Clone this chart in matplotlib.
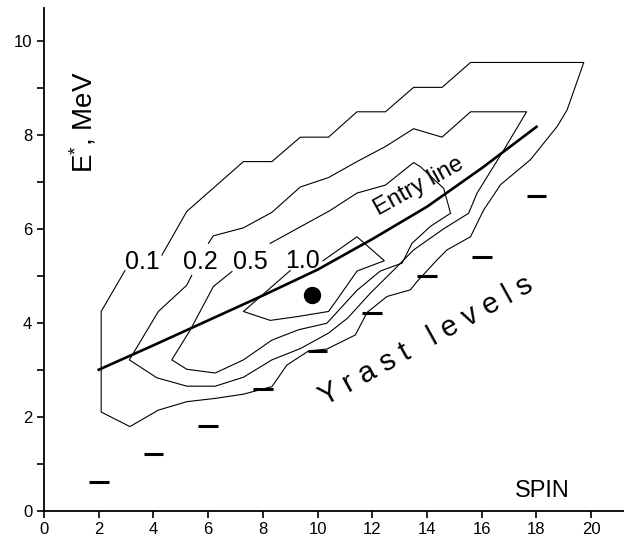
import numpy as np
import matplotlib
matplotlib.use('Agg')
import matplotlib.pyplot as plt

plt.rcParams['font.family'] = ['Liberation Sans', 'DejaVu Sans']
plt.rcParams['mathtext.fontset'] = 'custom'
plt.rcParams['mathtext.rm'] = 'Liberation Sans'

# yrast levels
yrast_spin = [2, 4, 6, 8, 10, 12, 14, 16, 18]
yrast_e = [0.6, 1.2, 1.8, 2.6, 3.4, 4.2, 5.0, 5.4, 6.7]

# entry line
entry_spin = [2, 4, 6, 8, 10, 12, 14, 16, 18]
entry_e = [3.0, 3.52, 4.05, 4.58, 5.13, 5.78, 6.47, 7.29, 8.17]

# measured point
point_spin = [9.8]
point_e = [4.6]

# contour levels (each one is a polyline, broken where its label sits)
c01_spin = [4.31, 5.22, 7.29, 8.33, 9.37, 10.4, 11.44, 12.48, 13.51, 14.55, 15.59,
            19.73, 19.12, 18.76, 17.78, 16.69, 16.07, 15.59, 14.73, 14.37, 13.64,
            13.39, 12.54, 11.81, 11.38, 10.34, 9.67, 8.88, 8.33, 7.29, 6.26, 5.22,
            4.18, 3.14, 2.09, 2.09, 2.96]
c01_e = [5.44, 6.37, 7.43, 7.43, 7.95, 7.95, 8.49, 8.49, 9.01, 9.01, 9.54,
         9.54, 8.53, 8.18, 7.47, 6.94, 6.40, 5.83, 5.55, 5.34, 4.88,
         4.70, 4.56, 4.22, 3.74, 3.44, 3.40, 3.10, 2.64, 2.48, 2.39, 2.32,
         2.14, 1.79, 2.10, 4.24, 5.11]

c02_spin = [6.01, 6.19, 7.29, 8.33, 9.37, 10.4, 11.44, 12.48, 13.51, 14.55, 15.59,
            17.64, 16.81, 15.83, 15.52, 14.61, 13.51, 12.78, 11.93, 11.1, 10.4,
            9.37, 8.33, 7.29, 6.26, 5.22, 4.12, 3.12, 4.18, 5.22, 5.40]
c02_e = [5.69, 5.85, 6.02, 6.35, 6.89, 7.09, 7.43, 7.75, 8.13, 7.95, 8.49,
         8.49, 7.68, 6.76, 6.33, 6.00, 5.55, 5.12, 4.63, 4.10, 3.78,
         3.45, 3.21, 2.84, 2.65, 2.65, 2.83, 3.21, 4.24, 4.80, 5.01]

c05_spin = [8.27, 10.46, 11.44, 12.48, 13.51, 13.76, 14.61, 14.86, 14.12, 13.45,
            13.09, 12.29, 11.44, 10.34, 9.30, 8.33, 7.29, 6.26, 5.22, 4.67,
            5.34, 6.19, 6.87]
c05_e = [5.69, 6.39, 6.76, 6.93, 7.41, 7.32, 6.86, 6.33, 6.05, 5.69,
         5.27, 5.10, 4.69, 3.99, 3.85, 3.63, 3.21, 2.93, 3.01, 3.21,
         3.84, 4.77, 5.09]

c10_spin = [10.2, 11.44, 12.44, 11.44, 10.71, 10.40, 9.25, 8.27, 7.29, 9.0]
c10_e = [5.32, 5.83, 5.32, 5.10, 4.49, 4.24, 4.13, 4.05, 4.24, 5.11]

level_text = ['0.1', '0.2', '0.5', '1.0']
level_spin = [3.6, 5.71, 7.55, 9.45]
level_e = [5.3, 5.3, 5.3, 5.32]

fig = plt.figure(figsize=(6.24, 5.49), dpi=100)
ax = fig.add_axes([0.0705, 0.0698, 0.9295, 0.9157])

for xs, ys in [(c01_spin, c01_e), (c02_spin, c02_e), (c05_spin, c05_e), (c10_spin, c10_e)]:
    ax.plot(xs, ys, color='black', lw=0.8)

for t, x, y in zip(level_text, level_spin, level_e):
    ax.text(x, y, t, fontsize=18, ha='center', va='center')

ax.plot(entry_spin, entry_e, color='black', lw=1.9)
ax.hlines(yrast_e, np.array(yrast_spin) - 0.36, np.array(yrast_spin) + 0.36,
          color='black', lw=2.2)
ax.plot(point_spin, point_e, 'o', color='black', ms=11.5)

ax.text(13.72, 6.9, 'Entry line', fontsize=17, rotation=29, ha='center', va='center')
ax.text(13.95, 3.62, 'Y r a s t   l e v e l s', fontsize=21, rotation=29,
        ha='center', va='center')
ax.text(1.43, 8.27, '$\\mathregular{E^{*}}$, MeV', fontsize=20, rotation=90,
        ha='center', va='center')
ax.text(18.2, 0.42, 'SPIN', fontsize=17, ha='center', va='center')

ax.set_xlim(0, 21.2)
ax.set_ylim(0, 10.7)
ax.set_xticks(range(0, 21, 2))
ax.set_yticks(range(0, 11, 2))
ax.set_yticks(range(1, 11, 2), minor=True)
ax.tick_params(axis='both', which='both', direction='out', length=5, width=1.2,
               labelsize=12, colors='black')
ax.spines['top'].set_visible(False)
ax.spines['right'].set_visible(False)
ax.spines['left'].set_linewidth(1.3)
ax.spines['bottom'].set_linewidth(1.3)

plt.savefig('out.png', dpi=100)
